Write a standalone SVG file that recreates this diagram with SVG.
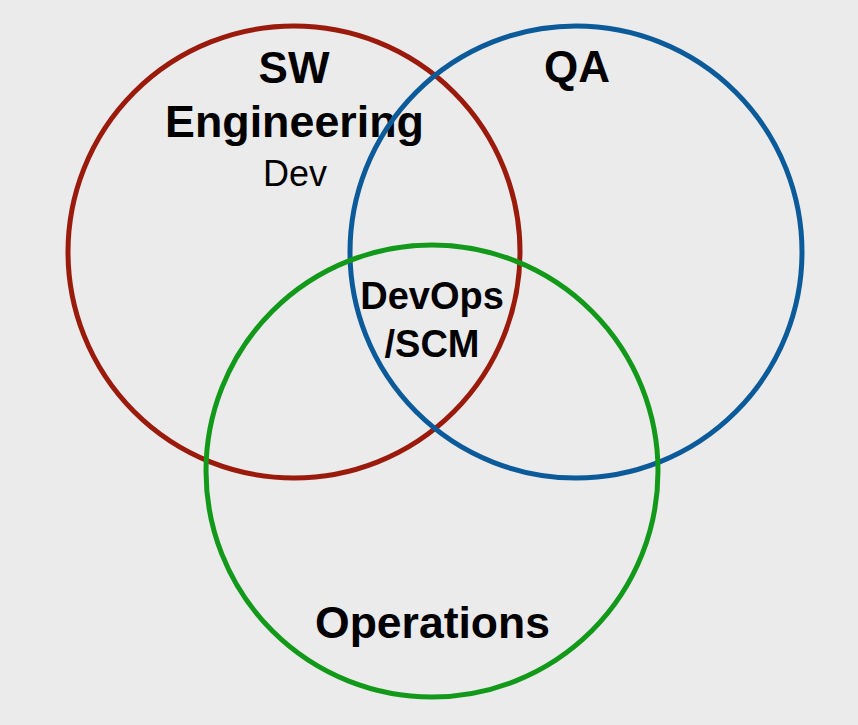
<svg xmlns="http://www.w3.org/2000/svg" width="858" height="725" viewBox="0 0 858 725">
<style>
.c{fill:none;stroke-width:5}
.b{font-family:"Liberation Sans",Arial,sans-serif;font-weight:bold;fill:#000;text-anchor:middle}
.r{font-family:"Liberation Sans",Arial,sans-serif;fill:#000;text-anchor:middle}
</style>
<rect width="858" height="725" fill="#ebebeb"/>
<g id="sw">
<circle class="c" cx="294" cy="252" r="226" stroke="#9a1a0c"/>
<text class="b" x="294" y="83" font-size="44">SW</text>
<text class="b" x="294.5" y="137" font-size="44.8">Engineering</text>
<text class="r" x="295" y="186" font-size="36">Dev</text>
</g>
<g id="qa">
<circle class="c" cx="576" cy="252" r="226" stroke="#0b5a9a"/>
<text class="b" x="577" y="82" font-size="44">QA</text>
</g>
<g id="ops">
<circle class="c" cx="432" cy="471" r="226" stroke="#13991a"/>
<text class="b" x="432.5" y="638" font-size="44.5">Operations</text>
</g>
<g id="devops">
<text class="b" x="432" y="309" font-size="38">DevOps</text>
<text class="b" x="432" y="357" font-size="38">/SCM</text>
</g>
</svg>
